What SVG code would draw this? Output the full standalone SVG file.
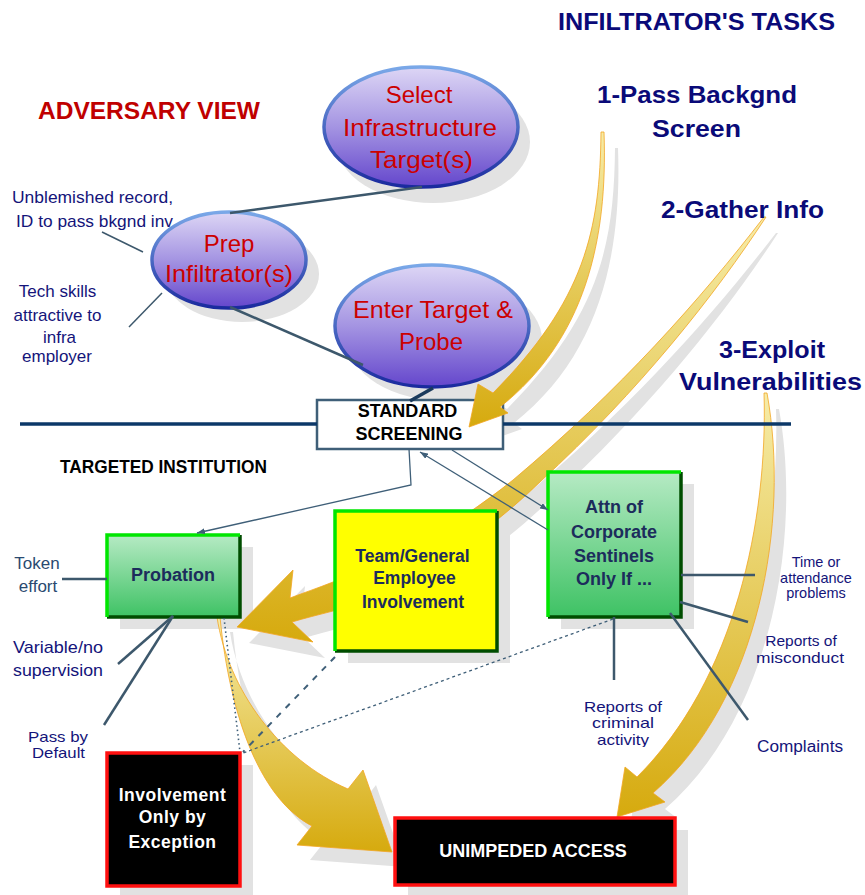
<svg xmlns="http://www.w3.org/2000/svg" width="865" height="895" viewBox="0 0 865 895">
<defs>
<linearGradient id="ellFill" x1="0" y1="0" x2="0" y2="1"><stop offset="0" stop-color="#ddd6f5"/><stop offset="0.5" stop-color="#a494e2"/><stop offset="1" stop-color="#6446cc"/></linearGradient>
<linearGradient id="ellStroke" x1="0" y1="0" x2="0" y2="1"><stop offset="0" stop-color="#7aa8e8"/><stop offset="1" stop-color="#1a2a9e"/></linearGradient>
<linearGradient id="greenFill" x1="0" y1="0" x2="0" y2="1"><stop offset="0" stop-color="#b6eac4"/><stop offset="1" stop-color="#3ec264"/></linearGradient>
<linearGradient id="gold" x1="0" y1="0" x2="0" y2="1"><stop offset="0" stop-color="#f6eca8"/><stop offset="1" stop-color="#d6aa0e"/></linearGradient>
<marker id="arr" viewBox="0 0 8 6" markerWidth="8" markerHeight="6" refX="8" refY="3" orient="auto" markerUnits="userSpaceOnUse"><path d="M0,0 L8,3 L0,6 z" fill="#3f5f78"/></marker>
<clipPath id="ssClip"><rect x="317" y="403.5" width="186" height="46"/></clipPath>
<clipPath id="critClip"><rect x="560" y="690" width="130" height="57"/></clipPath>
<path id="a1" d="M601,132 C600,230 585,300 493,393 L478,384 L469,427 L508,413 L500,407 C585,340 608,240 604,132 Z"/>
<path id="a2" d="M764,217 C700,300 620,390 513,480 C450,530 390,562 333,582 C318,588 303,593 290,598 L293,570 L237,627 L313,642 L292,622 C305,618 318,615 333,611 C400,585 470,550 540,482 C640,390 715,295 766,217 Z"/>
<path id="a3" d="M764,393 C768,520 735,680 637,777 L625,767 L617,817 L665,802 L653,793 C760,700 790,520 767,393 Z"/>
<path id="a4" d="M217,617 C228,690 280,760 348,789 L363,770 L392,852 L297,845 L312,826 C262,800 230,720 220,617 Z"/>
</defs>
<style>
.sh{fill:#e2e2e2}
.ell{fill:url(#ellFill);stroke:url(#ellStroke);stroke-width:3.5}
.gold{fill:url(#gold);stroke:#f2a622;stroke-width:0.8}
.hi{fill:none;stroke:#00e600;stroke-width:3.5}
.lo{fill:none;stroke:#004d00;stroke-width:3.5}
.blk{fill:#000;stroke:#ff1010;stroke-width:3.5}
.ln{stroke:#3d586c;stroke-width:2.5;fill:none}
.thin{stroke:#3f5f78;stroke-width:1.3;fill:none}
.hz{stroke:#0c3868;stroke-width:3.5}
text{font-family:"Liberation Sans",Arial,sans-serif}
.head{font-weight:bold;font-size:24px;fill:#0a0a78;text-anchor:middle}
.red{font-size:24px;fill:#cc0000;text-anchor:middle}
.lab{font-size:17px;fill:#14147a;text-anchor:middle}
.sm{font-size:14.5px;fill:#14147a;text-anchor:middle}
.md{font-size:15.5px;fill:#14147a;text-anchor:middle}
.box{font-weight:bold;font-size:17.5px;fill:#1c2c5c;text-anchor:middle}
.wht{font-weight:bold;font-size:17.5px;fill:#fff;text-anchor:middle}
.bk{font-weight:bold;font-size:18px;fill:#000;text-anchor:middle}
</style>
<rect width="865" height="895" fill="#fff"/>

<g id="shadows">
<ellipse class="sh" cx="433" cy="142" rx="97" ry="61"/>
<ellipse class="sh" cx="242" cy="274" rx="77" ry="48"/>
<ellipse class="sh" cx="445" cy="340" rx="97" ry="61"/>
<use href="#a1" class="sh" transform="translate(14,16)"/>
<use href="#a2" class="sh" transform="translate(12,16)"/>
<use href="#a3" class="sh" transform="translate(12,16)"/>
<use href="#a4" class="sh" transform="translate(13,15)"/>
<rect class="sh" x="120" y="547" width="133" height="82"/>
<rect class="sh" x="348" y="523" width="162" height="140"/>
<rect class="sh" x="561" y="484" width="133" height="145"/>
<rect class="sh" x="120" y="765" width="133" height="133"/>
<rect class="sh" x="408" y="830" width="280" height="67"/>
</g>

<g id="standard-screening">
<rect x="317" y="400" width="186" height="49" fill="#fff" stroke="#3f5f78" stroke-width="2.5"/>
<g clip-path="url(#ssClip)"><text class="bk" x="407.5" y="417">STANDARD</text></g>
<text class="bk" x="409" y="440">SCREENING</text>
</g>

<g id="select-target">
<ellipse class="ell" cx="421" cy="127" rx="97" ry="60"/>
<text class="red" x="419" y="103">Select</text>
<text class="red" x="420" y="136" textLength="154" lengthAdjust="spacingAndGlyphs">Infrastructure</text>
<text class="red" x="421.5" y="168" textLength="103" lengthAdjust="spacingAndGlyphs">Target(s)</text>
</g>
<g id="prep-infiltrator">
<ellipse class="ell" cx="229" cy="260" rx="77" ry="48"/>
<text class="red" x="229" y="252">Prep</text>
<text class="red" x="229" y="282" textLength="128" lengthAdjust="spacingAndGlyphs">Infiltrator(s)</text>
</g>
<g id="enter-target">
<ellipse class="ell" cx="432" cy="326" rx="97" ry="61"/>
<text class="red" x="433" y="318" textLength="160" lengthAdjust="spacingAndGlyphs">Enter Target &amp;</text>
<text class="red" x="431" y="350">Probe</text>
</g>

<g id="task-arrows">
<use href="#a1" class="gold"/>
<use href="#a2" class="gold"/>
<use href="#a3" class="gold"/>
<use href="#a4" class="gold"/>
</g>

<g id="divider">
<line class="hz" x1="20" y1="424" x2="317" y2="424"/>
<line class="hz" x1="503" y1="424" x2="791" y2="424"/>
</g>

<g id="probation">
<rect x="107" y="535" width="133" height="82" fill="url(#greenFill)"/>
<path class="lo" d="M240,535 V617 H107"/><path class="hi" d="M107,617 V535 H240"/>
<text class="box" x="173" y="581" style="font-size:18px">Probation</text>
</g>
<g id="team-involvement">
<rect x="335" y="511" width="162" height="140" fill="#ffff00"/>
<path class="lo" d="M497,511 V651 H335"/><path class="hi" d="M335,651 V511 H497"/>
<text class="box" x="412.5" y="562">Team/General</text>
<text class="box" x="414.5" y="584">Employee</text>
<text class="box" x="413" y="608">Involvement</text>
</g>
<g id="corporate-sentinels">
<rect x="548" y="472" width="133" height="145" fill="url(#greenFill)"/>
<path class="lo" d="M681,472 V617 H548"/><path class="hi" d="M548,617 V472 H681"/>
<text class="box" x="614" y="513" style="font-size:18px">Attn of</text>
<text class="box" x="614" y="538" style="font-size:18px">Corporate</text>
<text class="box" x="614" y="562" style="font-size:18px">Sentinels</text>
<text class="box" x="614" y="585" style="font-size:18px">Only If ...</text>
</g>
<g id="involvement-exception">
<rect class="blk" x="107" y="753" width="133" height="133"/>
<text class="wht" x="172.5" y="801" letter-spacing="0.5">Involvement</text>
<text class="wht" x="172.5" y="823" letter-spacing="0.5">Only by</text>
<text class="wht" x="172.5" y="848" letter-spacing="0.5">Exception</text>
</g>
<g id="unimpeded-access">
<rect class="blk" x="395" y="818" width="280" height="67"/>
<text class="wht" x="533" y="857" style="font-size:18px">UNIMPEDED ACCESS</text>
</g>

<g id="connectors">
<line class="ln" x1="230" y1="213" x2="422" y2="187"/>
<line class="ln" x1="230" y1="307" x2="363" y2="365"/>
<line x1="433" y1="388" x2="410" y2="401" stroke="#1a3a5c" stroke-width="3.5"/>
<line class="ln" x1="102" y1="232" x2="143" y2="252" style="stroke-width:1.5"/>
<line class="ln" x1="129" y1="327" x2="162" y2="293" style="stroke-width:1.5"/>
<polyline class="thin" points="409,449 411,485 197,533" marker-end="url(#arr)"/>
<line class="thin" x1="452" y1="450" x2="548" y2="510" marker-end="url(#arr)"/>
<line class="thin" x1="548" y1="530" x2="420" y2="452" marker-end="url(#arr)"/>
<line x1="224" y1="618" x2="240" y2="752" stroke="#3f5f78" stroke-width="1.6" stroke-dasharray="1.5 3"/>
<line x1="335" y1="657" x2="243" y2="752" stroke="#3f5f78" stroke-width="2" stroke-dasharray="6 7"/>
<line x1="613" y1="619" x2="243" y2="753" stroke="#3f5f78" stroke-width="1.3" stroke-dasharray="3 3"/>
<line class="ln" x1="62" y1="579" x2="107" y2="579"/>
<line class="ln" x1="118" y1="664" x2="173" y2="616"/>
<line class="ln" x1="104" y1="725" x2="173" y2="616"/>
<line class="ln" x1="681" y1="575" x2="755" y2="575"/>
<line class="ln" x1="680" y1="602" x2="748" y2="622"/>
<line class="ln" x1="670" y1="613" x2="748" y2="720"/>
<line class="ln" x1="614" y1="617" x2="614" y2="680"/>
</g>

<g id="titles">
<text class="head" x="696.5" y="30" textLength="277" lengthAdjust="spacingAndGlyphs">INFILTRATOR'S TASKS</text>
<text class="head" x="149" y="119" style="fill:#c00000" textLength="222" lengthAdjust="spacingAndGlyphs">ADVERSARY VIEW</text>
<text class="head" x="697" y="103" textLength="200" lengthAdjust="spacingAndGlyphs">1-Pass Backgnd</text>
<text class="head" x="696.5" y="137" textLength="89" lengthAdjust="spacingAndGlyphs">Screen</text>
<text class="head" x="742.5" y="218" textLength="163" lengthAdjust="spacingAndGlyphs">2-Gather Info</text>
<text class="head" x="772" y="358" textLength="106" lengthAdjust="spacingAndGlyphs">3-Exploit</text>
<text class="head" x="770.5" y="390" textLength="183" lengthAdjust="spacingAndGlyphs">Vulnerabilities</text>
<text x="163.5" y="473" font-weight="bold" font-size="19" fill="#000" text-anchor="middle" textLength="207" lengthAdjust="spacingAndGlyphs">TARGETED INSTITUTION</text>
</g>

<g id="labels">
<text class="lab" x="92.5" y="203" textLength="161" lengthAdjust="spacingAndGlyphs">Unblemished record,</text>
<text class="lab" x="94.5" y="227" textLength="157" lengthAdjust="spacingAndGlyphs">ID to pass bkgnd inv</text>
<text class="lab" x="57.5" y="297">Tech skills</text>
<text class="lab" x="57.5" y="321">attractive to</text>
<text class="lab" x="59.5" y="343">infra</text>
<text class="lab" x="57" y="362">employer</text>
<text class="lab" x="37" y="569" style="fill:#2a4a70">Token</text>
<text class="lab" x="38" y="592" style="fill:#2a4a70">effort</text>
<text class="lab" x="58" y="653" textLength="90" lengthAdjust="spacingAndGlyphs">Variable/no</text>
<text class="lab" x="58" y="676" textLength="90" lengthAdjust="spacingAndGlyphs">supervision</text>
<text class="sm" x="58" y="742" textLength="60" lengthAdjust="spacingAndGlyphs">Pass by</text>
<text class="sm" x="58.5" y="758" textLength="53" lengthAdjust="spacingAndGlyphs">Default</text>
<text class="sm" x="816" y="567">Time or</text>
<text class="sm" x="816" y="583">attendance</text>
<text class="sm" x="816" y="598">problems</text>
<text class="md" x="801" y="646">Reports of</text>
<text class="md" x="800" y="663" textLength="88" lengthAdjust="spacingAndGlyphs">misconduct</text>
<text class="lab" x="800" y="752" style="font-size:16px" textLength="86" lengthAdjust="spacingAndGlyphs">Complaints</text>
<g clip-path="url(#critClip)">
<text class="md" x="623" y="712" textLength="78" lengthAdjust="spacingAndGlyphs">Reports of</text>
<text class="md" x="623" y="728" style="font-size:15px" textLength="62" lengthAdjust="spacingAndGlyphs">criminal</text>
<text class="md" x="623" y="745" style="font-size:15px" textLength="52" lengthAdjust="spacingAndGlyphs">activity</text>
</g>
</g>
</svg>
